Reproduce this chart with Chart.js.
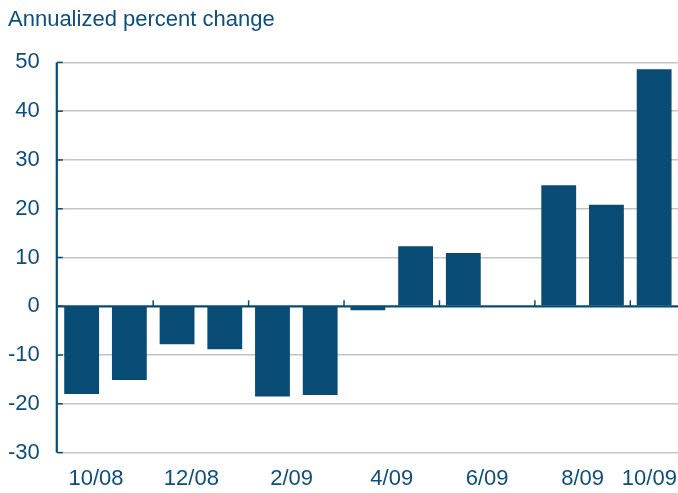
<!DOCTYPE html>
<html>
<head>
<meta charset="utf-8">
<script src="https://cdn.jsdelivr.net/npm/chart.js@4.4.1/dist/chart.umd.min.js"></script>
<style>
  html, body { margin: 0; padding: 0; background: #ffffff; overflow: hidden; }
  #wrap { width: 678px; height: 493px; position: relative; }
</style>
</head>
<body>
<div id="wrap"><canvas id="c"></canvas></div>
<script>
const categories = ['10/08','11/08','12/08','1/09','2/09','3/09','4/09','5/09','6/09','7/09','8/09','9/09','10/09'];
const values = [-18.0, -15.1, -7.8, -8.8, -18.5, -18.2, -0.8, 12.3, 10.9, 0, 24.8, 20.8, 48.6];
const tickLabels = ['10/08','12/08','2/09','4/09','6/09','8/09','10/09'];
// label slots on a tenth-of-category grid (0 = left edge, 130 = right edge)
const tickLabelSlots = [8, 28, 49, 70, 90, 110, 124];
const yTicks = [50, 40, 30, 20, 10, 0, -10, -20, -30];

const NAVY = '#084B74';
const TEXT = '#0E4E7A';
const GRID = '#C4C4C4';
const FONT = "'Liberation Sans', Arial, sans-serif";

const SUB = 10;
const labelSlots = [];
for (let i = 0; i <= categories.length * SUB; i++) {
  const k = tickLabelSlots.indexOf(i);
  labelSlots.push(k >= 0 ? tickLabels[k] : '');
}

const axisDecor = {
  id: 'axisDecor',
  afterDatasetsDraw(chart) {
    const ctx = chart.ctx;
    const x = chart.scales.x, y = chart.scales.y;
    const area = chart.chartArea;
    const y0 = y.getPixelForValue(0);
    ctx.save();
    ctx.strokeStyle = NAVY;
    ctx.lineWidth = 2.2;
    ctx.beginPath();
    ctx.moveTo(area.left, y0);
    ctx.lineTo(area.right, y0);
    ctx.stroke();
    ctx.lineWidth = 1.5;
    for (let i = 1; i < categories.length - 1; i += 2) {
      const px = (x.getPixelForValue(i) + x.getPixelForValue(i + 1)) / 2;
      ctx.beginPath();
      ctx.moveTo(px, y0 - 6);
      ctx.lineTo(px, y0);
      ctx.stroke();
    }
    ctx.lineWidth = 2.2;
    ctx.beginPath();
    ctx.moveTo(area.left - 1, area.top);
    ctx.lineTo(area.left - 1, area.bottom);
    ctx.stroke();
    ctx.lineWidth = 1.5;
    yTicks.forEach(v => {
      const py = y.getPixelForValue(v);
      ctx.beginPath();
      ctx.moveTo(area.left - 1, py);
      ctx.lineTo(area.left + 5, py);
      ctx.stroke();
    });
    ctx.restore();
  }
};

new Chart(document.getElementById('c'), {
  type: 'bar',
  data: {
    labels: categories,
    datasets: [{
      data: values,
      backgroundColor: NAVY,
      borderWidth: 0,
      categoryPercentage: 1.0,
      barPercentage: 0.73
    }]
  },
  options: {
    responsive: true,
    maintainAspectRatio: false,
    animation: false,
    devicePixelRatio: 1,
    layout: { padding: { left: 8, right: 0, top: 0, bottom: 1 } },
    plugins: {
      legend: { display: false },
      tooltip: { enabled: false },
      title: {
        display: true,
        text: 'Annualized percent change',
        align: 'start',
        color: TEXT,
        font: { family: FONT, size: 22, weight: 'normal' },
        padding: { top: 7, bottom: 29 }
      }
    },
    scales: {
      x: {
        type: 'category',
        display: false,
        grid: { display: false }
      },
      xl: {
        type: 'category',
        labels: labelSlots,
        position: 'bottom',
        offset: false,
        afterFit(scale) {
          scale.height -= 13;
          scale.paddingLeft = 0;
          scale.paddingRight = 0;
        },
        grid: { display: false, drawTicks: false },
        border: { display: false },
        ticks: {
          autoSkip: false,
          maxRotation: 0,
          minRotation: 0,
          padding: 13,
          color: TEXT,
          font: { family: FONT, size: 22 }
        }
      },
      y: {
        min: -30,
        max: 50,
        afterBuildTicks(scale) {
          scale.ticks = yTicks.map(v => ({ value: v }));
        },
        afterFit(scale) {
          scale.width -= 18;
        },
        grid: {
          drawTicks: false,
          color: ctx => (ctx.tick && ctx.tick.value === 0) ? 'rgba(0,0,0,0)' : GRID,
          lineWidth: 1.6
        },
        border: { display: false },
        ticks: {
          padding: 18,
          color: TEXT,
          font: { family: FONT, size: 22 }
        }
      }
    }
  },
  plugins: [axisDecor]
});
</script>
</body>
</html>
